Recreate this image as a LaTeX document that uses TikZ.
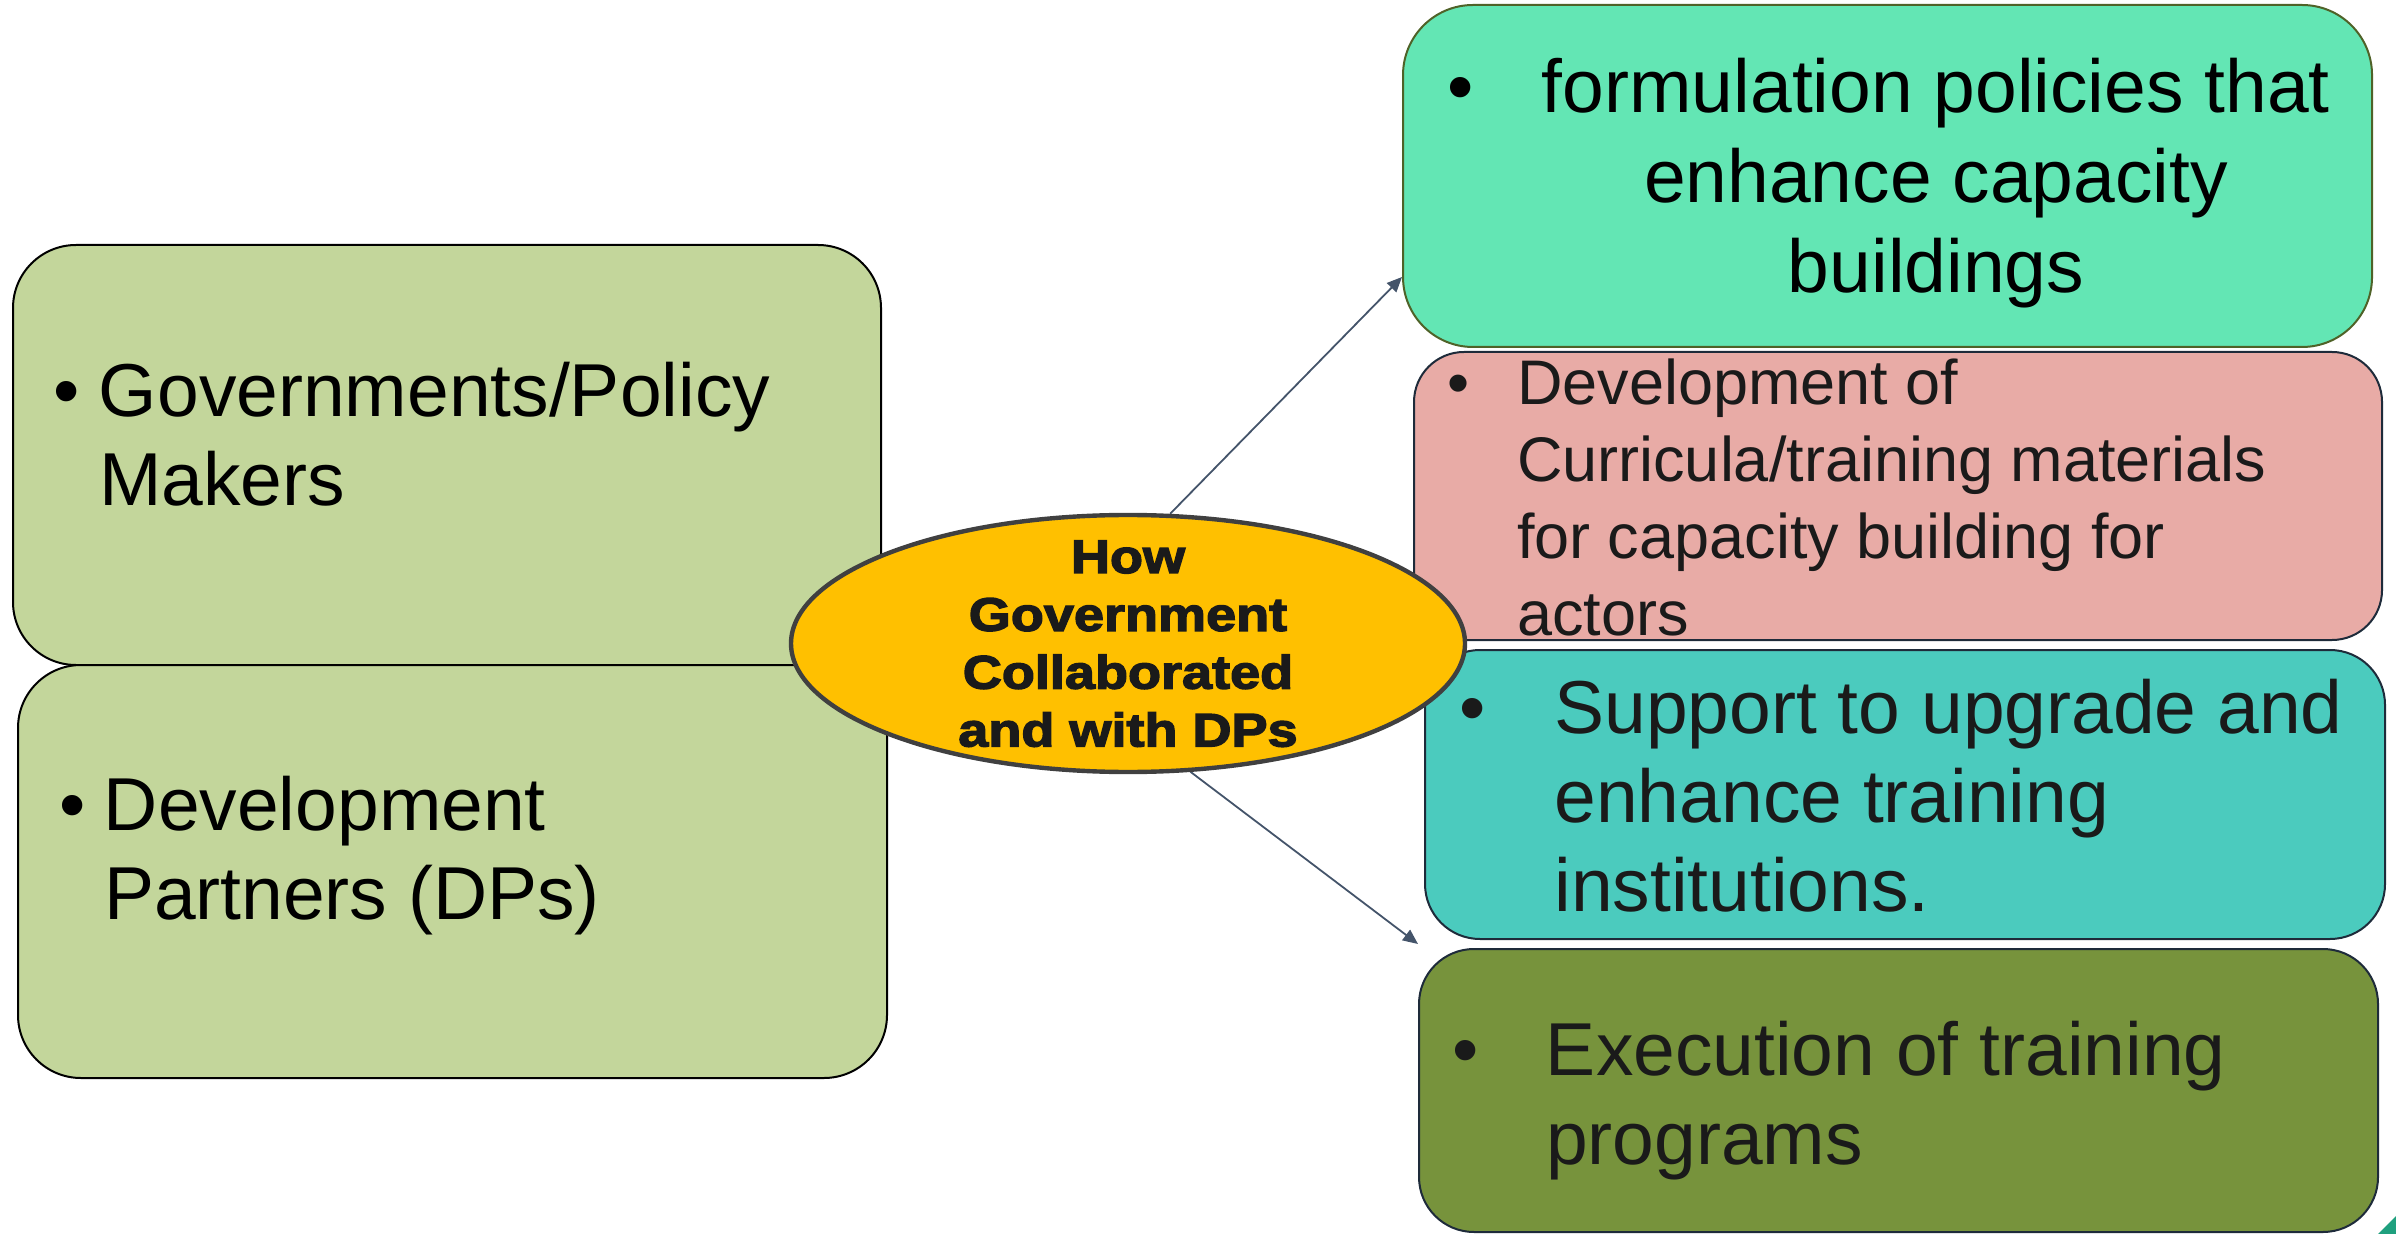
\documentclass[tikz,border=0pt]{standalone}
\usepackage{fontspec}
\setmainfont{Liberation Sans}
\newfontfamily\ellfont[FakeStretch=1.15,FakeBold=3]{Liberation Sans Bold}
\usetikzlibrary{arrows.meta,shapes.geometric}
\pgfdeclarelayer{boxes}
\pgfdeclarelayer{links}
\pgfsetlayers{boxes,links,main}
\definecolor{boxgreen}{HTML}{C3D69B}
\definecolor{mint}{HTML}{63E6B4}
\definecolor{mintline}{HTML}{4F6228}
\definecolor{pinkbox}{HTML}{E8ABA6}
\definecolor{tealbox}{HTML}{4BCBBE}
\definecolor{olivebox}{HTML}{77933C}
\definecolor{darkline}{HTML}{1E2B3A}
\definecolor{ellfill}{HTML}{FFC000}
\definecolor{ellline}{HTML}{404040}
\definecolor{arrowc}{HTML}{44546A}
\definecolor{darktext}{HTML}{1A1A1A}
\definecolor{cornertri}{HTML}{1FA07E}
\newcommand{\mybul}[1]{\makebox[#1][l]{\textbullet}}
\begin{document}
\begin{tikzpicture}[x=0.5pt,y=-0.5pt,
  box/.style={draw, rectangle, line width=1pt, inner sep=0pt},
  txt/.style={anchor=base west, inner sep=0pt, outer sep=0pt},
  arr/.style={draw=arrowc, line width=0.9pt, -{Triangle[length=7.5pt,width=6.5pt]}},
  bigtxt/.style={font=\fontsize{37.5pt}{44.5pt}\selectfont}]
\useasboundingbox (0,0) rectangle (2396,1234);

\begin{pgfonlayer}{boxes}
% left boxes
\node[box, fill=boxgreen, draw=black, rounded corners=31.5pt,
      minimum width=434pt, minimum height=210pt] (gov) at (447,455) {};
\node[box, fill=boxgreen, draw=black, rounded corners=31.5pt,
      minimum width=434.5pt, minimum height=206.5pt] (dps) at (452.5,871.5) {};
\node[txt, bigtxt, text=black] (govt) at (53,417)
  {\begin{tabular}[t]{@{}l@{}l@{}}\mybul{23pt}&Governments/Policy\\ &Makers\end{tabular}};
\node[txt, bigtxt, text=black] (dpst) at (59,830)
  {\begin{tabular}[t]{@{}l@{}l@{}}\mybul{22.5pt}&Development\\ &Partners (DPs)\end{tabular}};

% right boxes
\node[box, fill=mint, draw=mintline, rounded corners=35pt,
      minimum width=484.5pt, minimum height=171pt] (grn) at (1887.5,176) {};
\node[box, fill=pinkbox, draw=darkline, rounded corners=25pt,
      minimum width=484pt, minimum height=144pt] (pnk) at (1898,496) {};
\node[box, fill=tealbox, draw=darkline, rounded corners=27.5pt,
      minimum width=480pt, minimum height=144.5pt] (tel) at (1905,794.5) {};
\node[box, fill=olivebox, draw=darkline, rounded corners=27.5pt,
      minimum width=479.5pt, minimum height=141.5pt] (olv) at (1898.5,1090.5) {};

\node[txt, font=\fontsize{37.5pt}{45pt}\selectfont, text=black] (grnt) at (1447,113)
  {\begin{tabular}[t]{@{}l@{}c@{}}\mybul{47.5pt}&formulation policies that\\ &enhance capacity\\ &buildings\end{tabular}};
\node[txt, font=\fontsize{31.5pt}{38.5pt}\selectfont, text=darktext] (pnkt) at (1447,405)
  {\begin{tabular}[t]{@{}l@{}l@{}}\mybul{35pt}&Development of\\ &Curricula/training materials\\ &for capacity building for\\ &actors\end{tabular}};
\node[txt, bigtxt, text=darktext] (telt) at (1459.5,733)
  {\begin{tabular}[t]{@{}l@{}l@{}}\mybul{47.5pt}&Support to upgrade and\\ &enhance training\\ &institutions.\end{tabular}};
\node[txt, bigtxt, text=darktext] (olvt) at (1452,1075.6)
  {\begin{tabular}[t]{@{}l@{}l@{}}\mybul{47pt}&Execution of training\\ &programs\end{tabular}};
\end{pgfonlayer}

% central ellipse
\node[ellipse, draw=ellline, fill=ellfill, line width=2.2pt, inner sep=0pt,
      minimum width=337pt, minimum height=128.5pt] (ell) at (1128,643.5) {};
\node[anchor=base, inner sep=0pt, text=darktext,
      font=\ellfont\fontsize{23.5pt}{28.9pt}\selectfont] (ellt) at (1128,573)
  {\begin{tabular}[t]{@{}c@{}}How\\ Government\\ Collaborated\\ and with DPs\end{tabular}};

% connectors (under the ellipse, over the boxes)
\begin{pgfonlayer}{links}
\draw[arr] (ell.72) -- ([yshift=-50.5pt]grn.west);
\draw[arr] (ell.-64) -- ([yshift=2pt]olv.north west);
\end{pgfonlayer}

% corner decoration
\fill[cornertri] (2378,1234) -- (2396,1216) -- (2396,1234) -- cycle;
\end{tikzpicture}
\end{document}
